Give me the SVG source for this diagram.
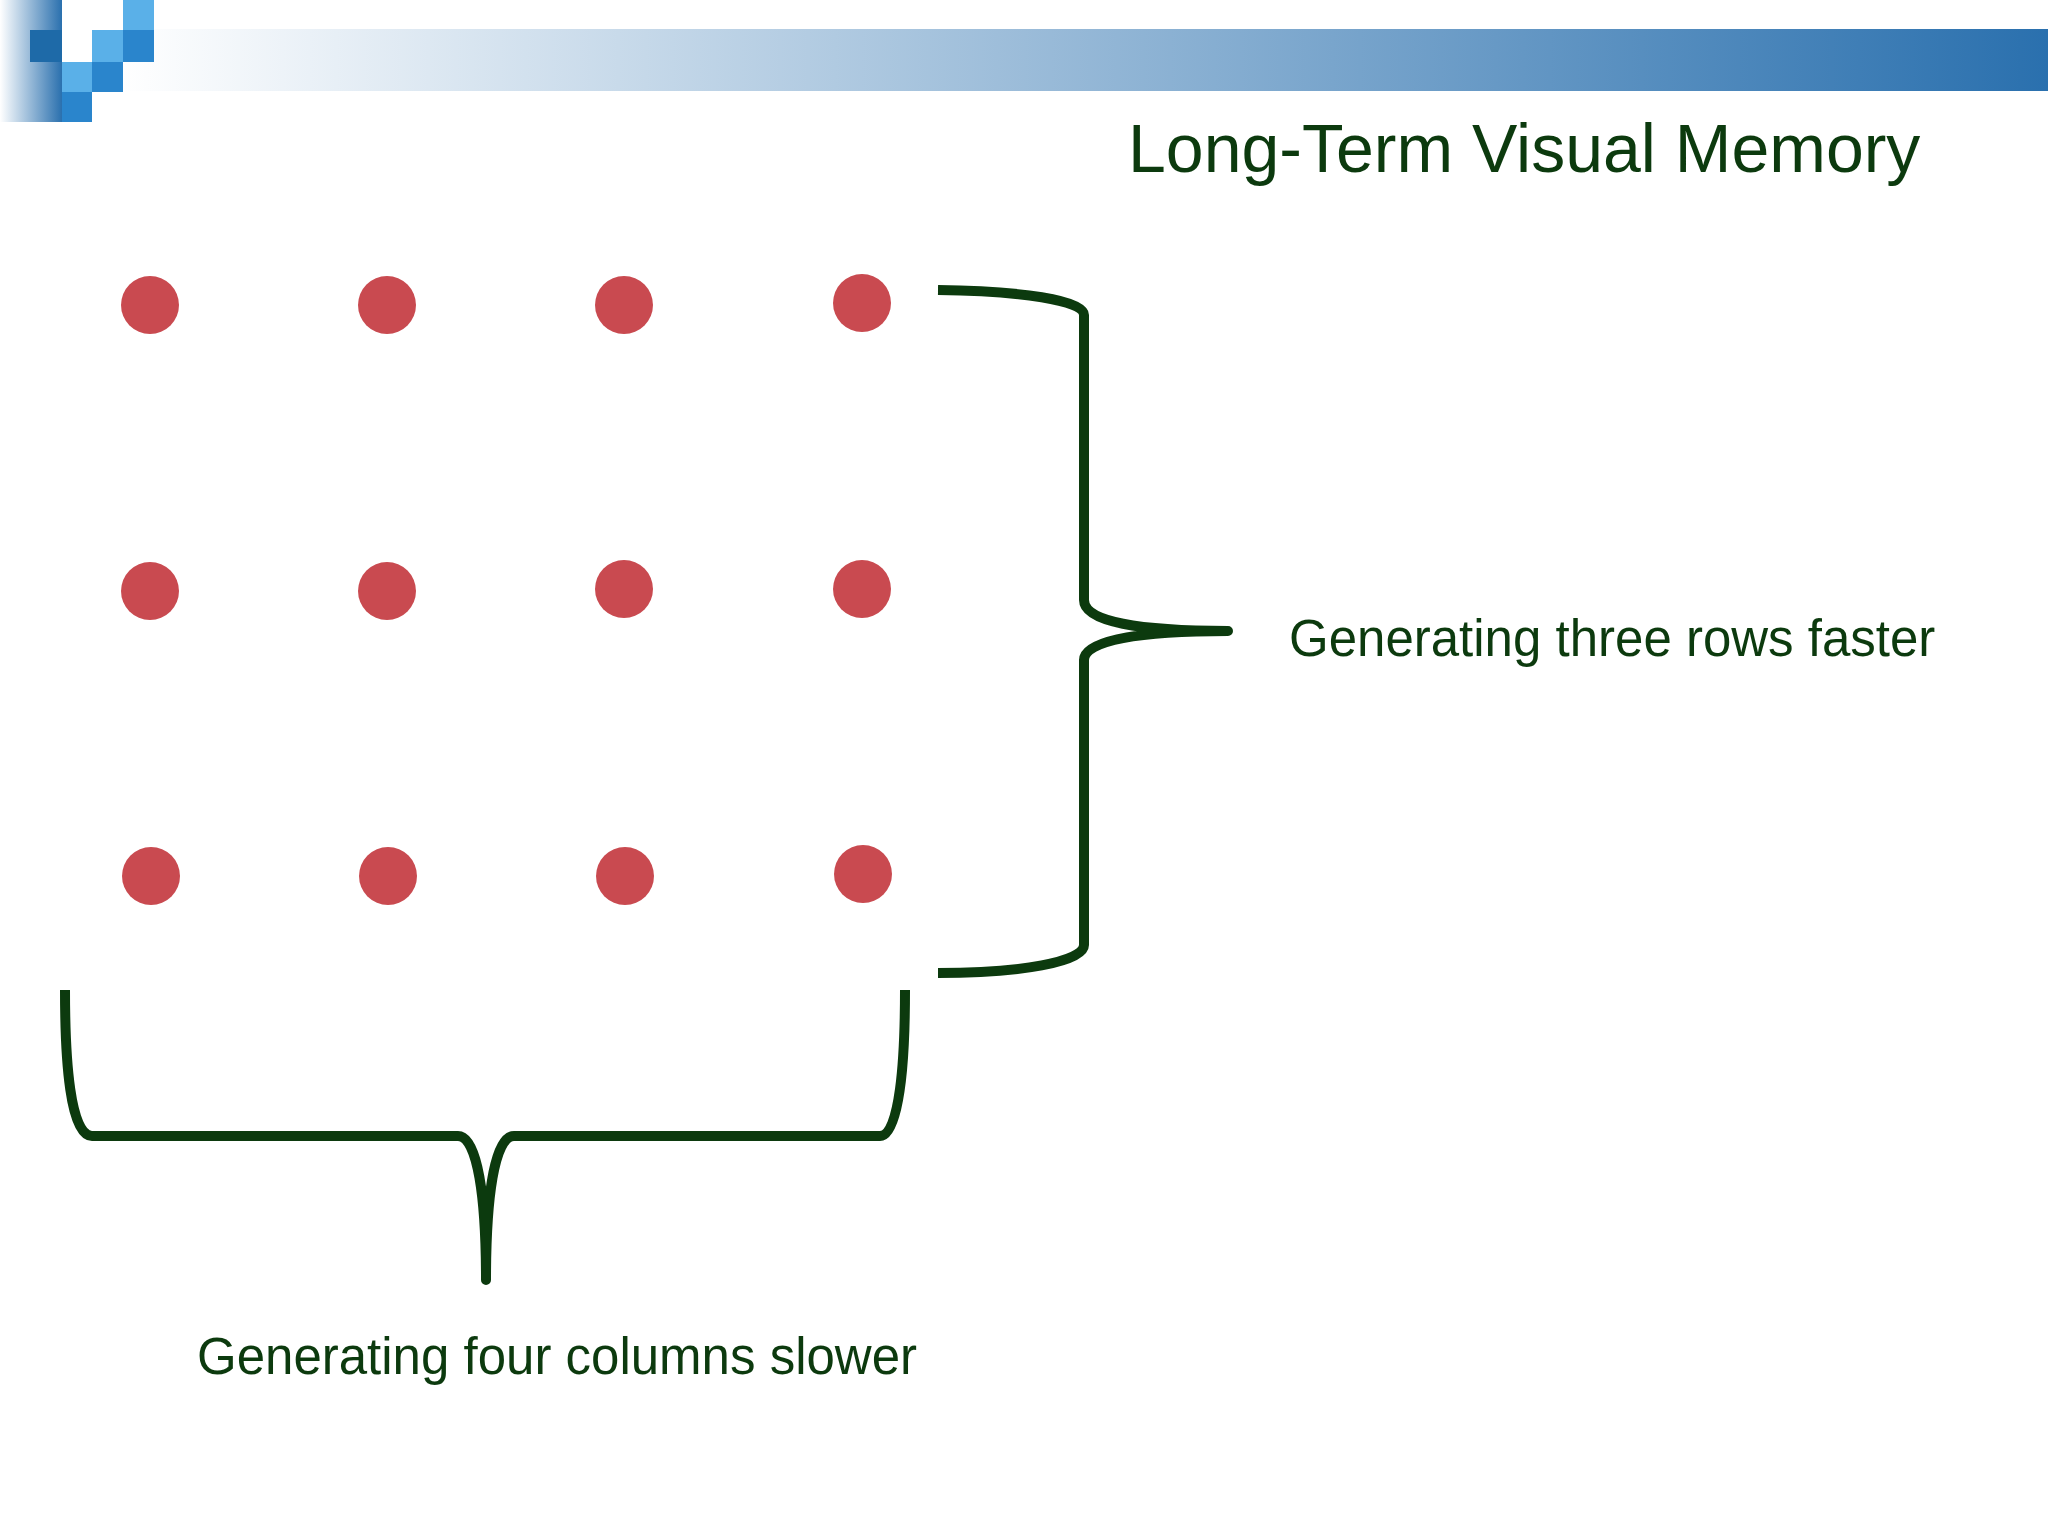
<svg xmlns="http://www.w3.org/2000/svg" width="2048" height="1536" viewBox="0 0 2048 1536">
<defs>
<linearGradient id="bar" x1="0" x2="1" y1="0" y2="0"><stop offset="0" stop-color="#ffffff"/><stop offset="1" stop-color="#2a70ae"/></linearGradient>
<linearGradient id="side" x1="0" x2="1" y1="0" y2="0"><stop offset="0" stop-color="#ffffff"/><stop offset="1" stop-color="#2a70ae"/></linearGradient>
<style>
.dot{fill:#c94a50}
.brace{fill:none;stroke:#0c3a0e;stroke-width:10;stroke-linejoin:round}
.lbl{font-family:"Liberation Sans",Arial,sans-serif;fill:#0c3a0e}
</style>
</defs>
<rect width="2048" height="1536" fill="#fff"/>
<g id="header">
<rect x="120" y="29" width="1928" height="62" fill="url(#bar)"/>
<rect x="0" y="0" width="62" height="122" fill="url(#side)"/>
<rect x="30" y="30" width="32" height="32" fill="#1e6aa8"/>
<rect x="123" y="0" width="31" height="30" fill="#5ab0e8"/>
<rect x="92" y="30" width="31" height="32" fill="#5ab0e8"/>
<rect x="123" y="30" width="31" height="32" fill="#2a85cc"/>
<rect x="62" y="62" width="30" height="30" fill="#5ab0e8"/>
<rect x="92" y="62" width="31" height="30" fill="#2a85cc"/>
<rect x="62" y="92" width="30" height="30" fill="#2a85cc"/>
</g>
<text class="lbl" x="1128" y="172" font-size="68">Long-Term Visual Memory</text>
<g id="dots">
<circle class="dot" cx="150" cy="305" r="29"/><circle class="dot" cx="387" cy="305" r="29"/><circle class="dot" cx="624" cy="305" r="29"/><circle class="dot" cx="862" cy="303" r="29"/>
<circle class="dot" cx="150" cy="591" r="29"/><circle class="dot" cx="387" cy="591" r="29"/><circle class="dot" cx="624" cy="589" r="29"/><circle class="dot" cx="862" cy="589" r="29"/>
<circle class="dot" cx="151" cy="876" r="29"/><circle class="dot" cx="388" cy="876" r="29"/><circle class="dot" cx="625" cy="876" r="29"/><circle class="dot" cx="863" cy="874" r="29"/>
</g>
<g id="connectors">
<path class="brace" d="M938 290 C1020 291 1084 300 1084 315 L1084 600 C1084 622 1140 631 1228 631 C1140 631 1084 640 1084 660 L1084 945 C1084 962 1020 973 938 973"/>
<path class="brace" d="M65 990 C65 1060 70 1136 92 1136 L458 1136 C478 1136 486 1200 486 1280 C486 1200 494 1136 514 1136 L880 1136 C900 1136 905 1060 905 990"/>
</g>
<text class="lbl" x="1289" y="656" font-size="51">Generating three rows faster</text>
<text class="lbl" x="197" y="1374" font-size="51">Generating four columns slower</text>
</svg>
